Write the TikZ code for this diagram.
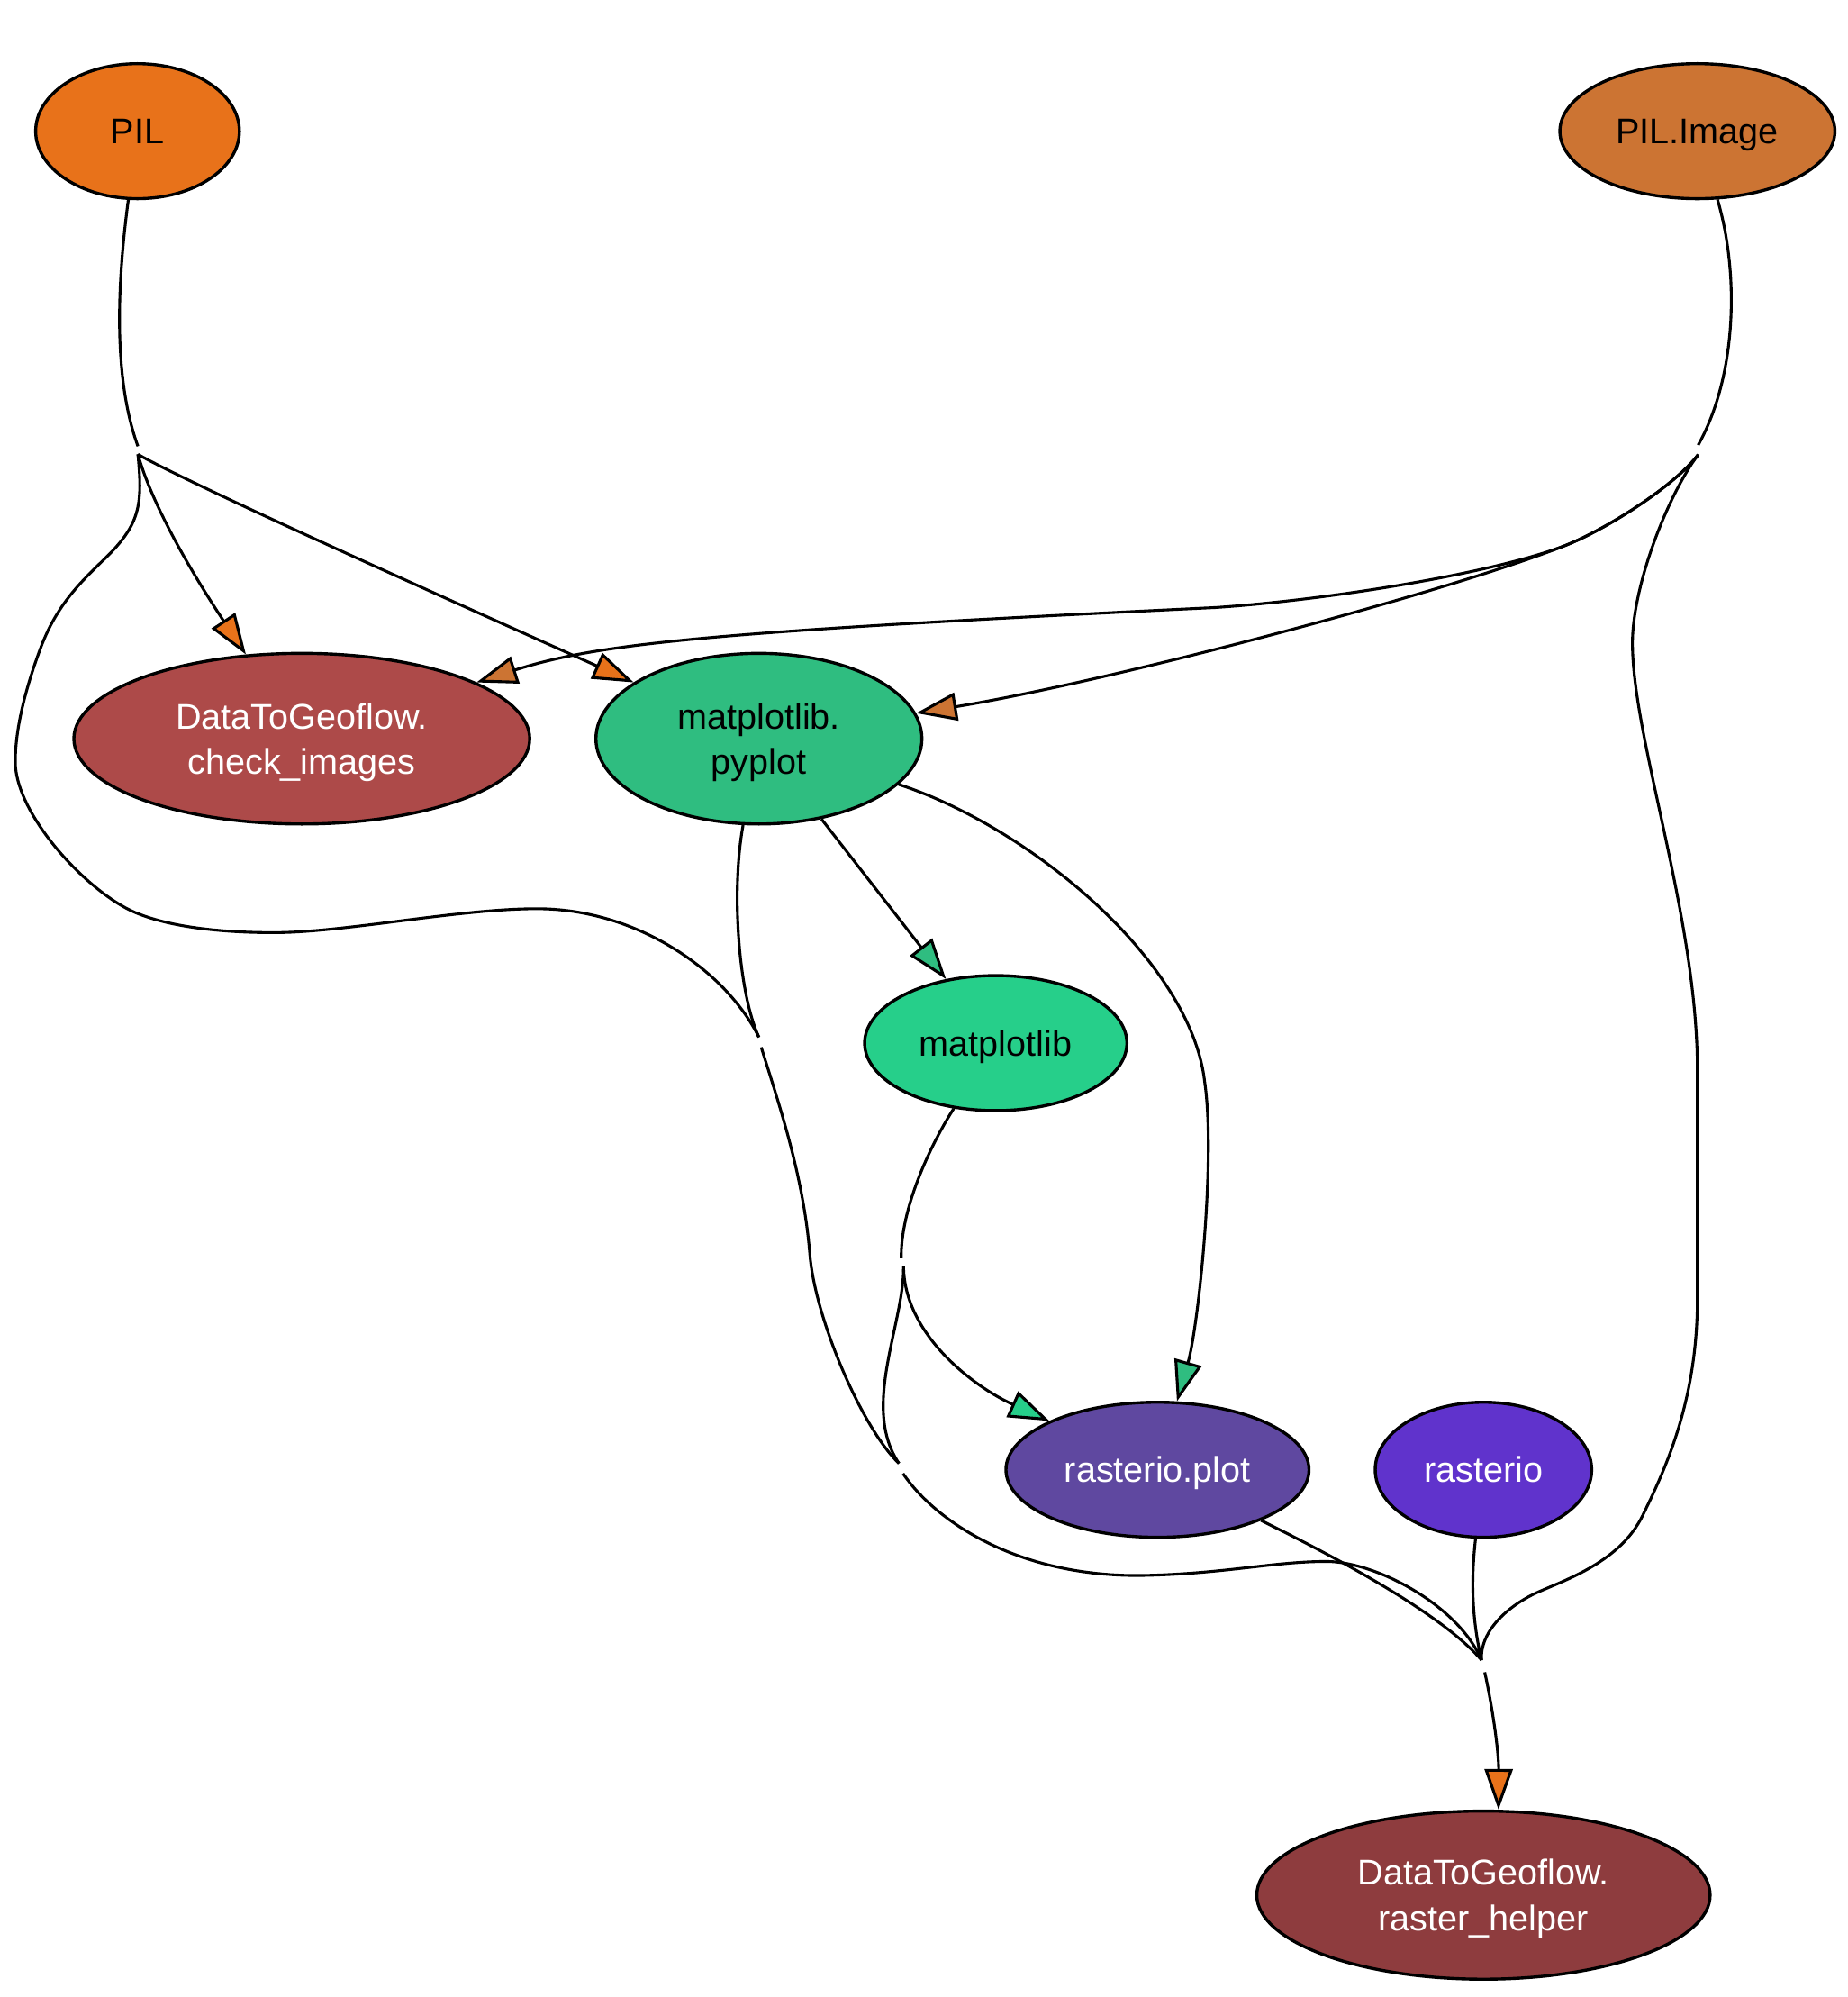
\documentclass[tikz,border=0pt]{standalone}
\usepackage{fontspec}
\setmainfont{Liberation Sans}
\usetikzlibrary{shapes.geometric,arrows.meta}
\definecolor{cPIL}{RGB}{232,114,26}
\definecolor{cPILImage}{RGB}{204,116,51}
\definecolor{cCheck}{RGB}{173,74,73}
\definecolor{cPyplot}{RGB}{47,189,128}
\definecolor{cMpl}{RGB}{38,207,138}
\definecolor{cRplot}{RGB}{95,72,160}
\definecolor{cRasterio}{RGB}{96,51,204}
\definecolor{cHelper}{RGB}{142,60,62}
\tikzset{
  nd/.style={ellipse, draw=black, line width=1.2pt, inner sep=0pt,
    font=\fontsize{14pt}{17.8pt}\selectfont, align=center},
  one/.style={text height=10pt, text depth=0pt},
  two/.style={text height=27.8pt, text depth=0pt},
  ed/.style={draw=black, line width=1.1pt},
  arr/.style={ed, -{Triangle[length=16pt,width=11pt,fill=#1]}},
}
\begin{document}
\begin{tikzpicture}[x=0.5pt,y=-0.5pt]
\fill[white] (0,0) rectangle (1451,1568);
\useasboundingbox (0,0) rectangle (1451,1568);

% nodes
\node[nd, one, fill=cPIL, minimum width=80pt, minimum height=53pt] (PIL) at (108,103) {PIL};
\node[nd, one, fill=cPILImage, minimum width=108pt, minimum height=53pt] (PILImage) at (1333,103) {PIL.Image};
\node[nd, two, fill=cCheck, text=white, minimum width=179pt, minimum height=67pt] (check) at (237,580) {DataToGeoflow.\\check\_images};
\node[nd, two, fill=cPyplot, minimum width=128pt, minimum height=67pt] (pyplot) at (596,580) {matplotlib.\\pyplot};
\node[nd, one, fill=cMpl, minimum width=103pt, minimum height=53pt] (mpl) at (782,819) {matplotlib};
\node[nd, one, fill=cRplot, text=white, minimum width=119pt, minimum height=53pt] (rplot) at (909,1154) {rasterio.plot};
\node[nd, one, fill=cRasterio, text=white, minimum width=85pt, minimum height=53pt] (rasterio) at (1165,1154) {rasterio};
\node[nd, two, fill=cHelper, text=white, minimum width=178pt, minimum height=66pt] (helper) at (1165,1488) {DataToGeoflow.\\raster\_helper};

% junction points
\coordinate (jPILin) at (108.3,350.4);
\coordinate (jPIL) at (108.3,356.7);
\coordinate (jIMGin) at (1333.6,349.5);
\coordinate (jIMG) at (1333.6,357);
\coordinate (jPYin) at (596,814.4);
\coordinate (jPY) at (597.8,822.3);
\coordinate (jMLin) at (707.8,988);
\coordinate (jML) at (709.6,994.3);
\coordinate (jMMin) at (706,1149);
\coordinate (jMM) at (709.2,1157);
\coordinate (jHin) at (1163.5,1303.5);
\coordinate (jH) at (1166,1313);

% PIL
\draw[ed] (PIL) .. controls (91,230) and (90,300) .. (jPILin);
\draw[arr=cPIL] (jPIL) .. controls (121,402) and (158,461) .. (check);
\draw[arr=cPIL] (jPIL) .. controls (150,381) and (400,492) .. (pyplot);
\draw[ed] (jPIL) .. controls (112,395) and (110,410) .. (87,434)
  .. controls (67.2,453.8) and (45.8,471.4) .. (31.8,509)
  .. controls (21.3,537.2) and (12,570) .. (12,598)
  .. controls (12,640) and (69.2,700.8) .. (106,716.4)
  .. controls (138.2,730) and (185,732.3) .. (215,732.3)
  .. controls (270,732.3) and (360,713.5) .. (421.6,713.5)
  .. controls (500,713.5) and (570,762) .. (jPYin);

% pyplot
\draw[ed] (pyplot) .. controls (574,700) and (580,780) .. (jPYin);
\draw[ed] (jPY) .. controls (612.8,870) and (631.2,925) .. (636,985)
  .. controls (640,1035) and (677,1121.4) .. (jMMin);
\draw[arr=cPyplot] (pyplot) -- (mpl);
\draw[arr=cPyplot] (pyplot) .. controls (810,650) and (935,755) .. (946,849)
  .. controls (955,909) and (941.2,1041) .. (rplot);

% matplotlib
\draw[ed] (mpl) .. controls (730,900) and (707,950) .. (jMLin);
\draw[arr=cMpl] (jML) .. controls (710,1048) and (765,1089) .. (rplot);
\draw[ed] (jML) .. controls (710,1040) and (676,1105) .. (jMMin);

% PIL.Image
\draw[ed] (PILImage) .. controls (1366,215) and (1364,295) .. (jIMGin);
\draw[arr=cPILImage] (jIMG) .. controls (1315.6,381) and (1262.6,415) .. (1230,428)
  .. controls (1174,450) and (1044,471) .. (954.6,477)
  .. controls (560,496) and (470,505) .. (check);
\draw[arr=cPILImage] (jIMG) .. controls (1315.6,381) and (1262.6,415) .. (1230,428)
  .. controls (1137,465) and (870,535.5) .. (pyplot);
\draw[ed] (jIMG) .. controls (1309.6,389) and (1282,460) .. (1282,505)
  .. controls (1282,580) and (1333,720) .. (1333,840) -- (1333,1020)
  .. controls (1333,1100) and (1307.6,1154) .. (1290,1190)
  .. controls (1272.4,1226) and (1230.5,1240) .. (1208,1250)
  .. controls (1185.5,1260) and (1162,1280) .. (jHin);

% merged path into raster_helper
\draw[ed] (jMM) .. controls (735,1195) and (800,1238) .. (896,1237)
  .. controls (960,1236) and (1000,1226) .. (1041.6,1226)
  .. controls (1080,1226) and (1145,1260) .. (jHin);
\draw[ed] (rplot) .. controls (1060,1228) and (1135,1270) .. (jHin);
\draw[ed] (rasterio) .. controls (1154,1250) and (1158,1280) .. (jHin);
\draw[arr=cPIL] (jH) .. controls (1172,1340) and (1177,1375) .. (helper.80);
\end{tikzpicture}
\end{document}
